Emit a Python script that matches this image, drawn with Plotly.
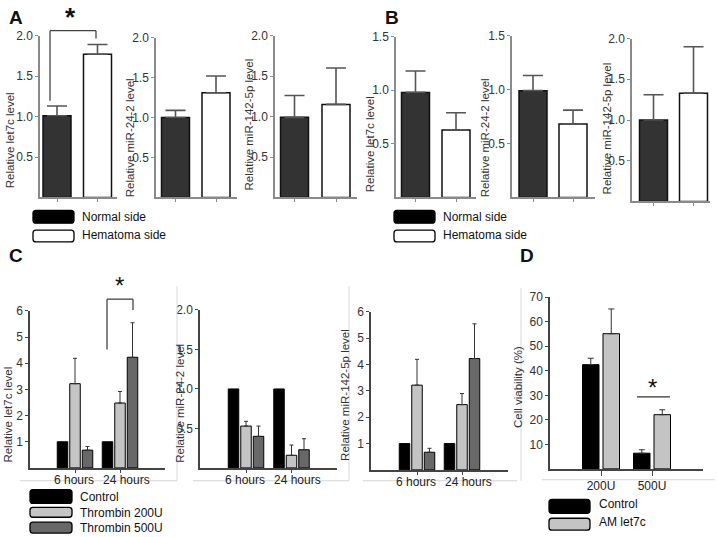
import plotly.graph_objects as go

W, H = 718, 537

# ---------------- data ----------------
AB_groups = ["Normal side", "Hematoma side"]
A_titles = ["Relative let7c level", "Relative miR-24-2 level", "Relative miR-142-5p level"]
A_normal = [1.01, 1.00, 0.99]
A_normal_err = [0.12, 0.09, 0.27]
A_hema = [1.77, 1.31, 1.15]
A_hema_err = [0.12, 0.21, 0.45]

B_titles = ["Relative let7c level", "Relative miR-24-2 level", "Relative miR-142-5p level"]
B_normal = [0.98, 0.99, 1.00]
B_normal_err = [0.20, 0.14, 0.31]
B_hema = [0.63, 0.68, 1.33]
B_hema_err = [0.16, 0.13, 0.57]

C_times = ["6 hours", "24 hours"]
C_series = ["Control", "Thrombin 200U", "Thrombin 500U"]
C_titles = ["Relative let7c level", "Relative miR-24-2 level", "Relative miR-142-5p level"]
C_let7c_control = [1.0, 1.0]
C_let7c_200 = [3.22, 2.48]
C_let7c_200_err = [0.97, 0.44]
C_let7c_500 = [0.68, 4.23]
C_let7c_500_err = [0.14, 1.32]
C_mir24_control = [1.0, 1.0]
C_mir24_200 = [0.53, 0.16]
C_mir24_200_err = [0.06, 0.13]
C_mir24_500 = [0.40, 0.23]
C_mir24_500_err = [0.13, 0.14]
C_mir142_control = [1.0, 1.0]
C_mir142_200 = [3.22, 2.48]
C_mir142_200_err = [0.98, 0.42]
C_mir142_500 = [0.67, 4.23]
C_mir142_500_err = [0.15, 1.32]

D_doses = ["200U", "500U"]
D_series = ["Control", "AM let7c"]
D_title = "Cell viability (%)"
D_control = [42.5, 6.4]
D_control_err = [2.6, 1.4]
D_am = [55.1, 22.1]
D_am_err = [10.1, 2.0]

# ---------------- helpers ----------------
FONT = "Liberation Sans, Arial, sans-serif"


def px(x):
    return x / W


def py(y):
    return 1 - y / H


fig = go.Figure()
layout = dict(width=W, height=H, margin=dict(l=0, r=0, t=0, b=0),
              paper_bgcolor="white", plot_bgcolor="rgba(0,0,0,0)",
              showlegend=False, barmode="overlay",
              font=dict(family=FONT, size=12, color="#333"))
annotations = []
shapes = []


def add_axes(n, left, right, top, bot, ymax, r0, r1, ytv, ytt, show_xlabels, xlabels, axcol, axw):
    xa = "xaxis" if n == 1 else f"xaxis{n}"
    ya = "yaxis" if n == 1 else f"yaxis{n}"
    xid = "x" if n == 1 else f"x{n}"
    yid = "y" if n == 1 else f"y{n}"
    layout[xa] = dict(domain=[px(left), px(right)], range=[r0, r1], anchor=yid,
                      showline=True, linecolor=axcol, linewidth=axw, showgrid=False,
                      zeroline=False, ticks="outside", ticklen=3, tickwidth=1,
                      tickcolor=axcol, tickvals=[0, 1], tickangle=0,
                      ticktext=xlabels if xlabels else ["", ""],
                      showticklabels=show_xlabels,
                      tickfont=dict(family=FONT, size=12, color="#222"), fixedrange=True)
    layout[ya] = dict(domain=[py(bot), py(top)], range=[0, ymax], anchor=xid,
                      showline=True, linecolor=axcol, linewidth=axw, showgrid=False,
                      zeroline=False, ticks="outside", ticklen=3, tickwidth=1,
                      tickcolor=axcol, tickvals=ytv, ticktext=ytt,
                      tickfont=dict(family=FONT, size=12, color="#333"), fixedrange=True)
    return xid, yid


def ytitle(text, cx, cy):
    annotations.append(dict(text=text, x=px(cx), y=py(cy), xref="paper", yref="paper",
                            showarrow=False, textangle=-90, xanchor="center", yanchor="middle",
                            font=dict(family=FONT, size=11.5, color="#333")))


def text_at(text, x, y, size, bold=False, xanchor="left"):
    annotations.append(dict(text=f"<b>{text}</b>" if bold else text, x=px(x), y=py(y),
                            xref="paper", yref="paper", showarrow=False,
                            xanchor=xanchor, yanchor="middle",
                            font=dict(family=FONT, size=size, color="#111")))


def line(x0, y0, x1, y1, color="#333", width=1.2):
    shapes.append(dict(type="line", xref="paper", yref="paper", x0=px(x0), y0=py(y0),
                       x1=px(x1), y1=py(y1), line=dict(color=color, width=width)))


def rrect(x0, y0, x1, y1, fill, r=3):
    pts = lambda x, y: f"{px(x):.5f},{py(y):.5f}"
    path = (f"M {pts(x0 + r, y0)} L {pts(x1 - r, y0)} Q {pts(x1, y0)} {pts(x1, y0 + r)} "
            f"L {pts(x1, y1 - r)} Q {pts(x1, y1)} {pts(x1 - r, y1)} "
            f"L {pts(x0 + r, y1)} Q {pts(x0, y1)} {pts(x0, y1 - r)} "
            f"L {pts(x0, y0 + r)} Q {pts(x0, y0)} {pts(x0 + r, y0)} Z")
    shapes.append(dict(type="path", xref="paper", yref="paper", path=path,
                       fillcolor=fill, line=dict(color="#000", width=1.3)))


# ---------------- panels A & B ----------------
AB_boxes = [
    # left, right, top(ymax px), bottom(0 px), ymax, bar center0, pitch, title x, title y
    (40, 117, 29, 193, 2.0, 57, 40.5, 10, 135),
    (156, 237, 31, 193, 2.0, 175.5, 40.5, 130, 133),
    (275, 357, 29, 193, 2.0, 294.5, 41.5, 249, 119),
    (396, 476, 30, 193, 1.5, 415.5, 40.5, 370, 139),
    (512, 595, 29, 193, 1.5, 533, 40.0, 485, 133),
    (632, 710, 32, 197, 2.0, 653.5, 40.0, 607, 123),
]
AB_vals = [(A_normal[i], A_hema[i], A_normal_err[i], A_hema_err[i], A_titles[i]) for i in range(3)] + \
          [(B_normal[i], B_hema[i], B_normal_err[i], B_hema_err[i], B_titles[i]) for i in range(3)]

for k, (box, vals) in enumerate(zip(AB_boxes, AB_vals)):
    left, right, top, bot, ymax, c0, pitch, tx, ty = box
    n = k + 1
    r0 = (left - c0) / pitch
    r1 = (right - c0) / pitch
    if ymax == 2.0:
        tv, tt = [0.5, 1.0, 1.5, 2.0], ["0.5", "1.0", "1.5", "2.0"]
    else:
        tv, tt = [0.5, 1.0, 1.5], ["0.5", "1.0", "1.5"]
    xid, yid = add_axes(n, left, right, top, bot, ymax, r0, r1, tv, tt, False, None, "#8a8a8a", 1.5)
    nv, hv, ne, he, title = vals
    fig.add_trace(go.Bar(x=[0, 1], y=[nv, hv], width=28 / pitch, xaxis=xid, yaxis=yid,
                         marker=dict(color=["#333333", "#ffffff"], line=dict(color="#111", width=1.5)),
                         error_y=dict(type="data", symmetric=False, array=[ne, he], arrayminus=[0, 0],
                                      color="#555", thickness=1.6, width=10)))
    ytitle(title, tx, ty)

# significance bracket A
line(50, 95, 50, 24, "#444", 1.3)
line(50, 24, 96, 24, "#444", 1.3)
line(96, 24, 96, 32, "#444", 1.3)
text_at("*", 70, 10, 26, bold=True, xanchor="center")

# legends A & B
for lx in (33, 394):
    rrect(lx, 206, lx + 41, 219, "#000000")
    rrect(lx, 226, lx + 41, 238, "#ffffff")
    text_at(AB_groups[0], lx + 47, 213, 12)
    text_at(AB_groups[1], lx + 47, 231, 12)

# ---------------- panel C ----------------
C_boxes = [
    (30, 165, 308, 467, 6, 75, 45, 8, 413),
    (200, 337, 307, 467, 2.0, 246, 45.5, 180, 402),
    (371, 508, 309, 469, 6, 417, 45, 345, 393),
]
C_data = [
    (C_let7c_control, C_let7c_200, C_let7c_200_err, C_let7c_500, C_let7c_500_err),
    (C_mir24_control, C_mir24_200, C_mir24_200_err, C_mir24_500, C_mir24_500_err),
    (C_mir142_control, C_mir142_200, C_mir142_200_err, C_mir142_500, C_mir142_500_err),
]
C_colors = ["#000000", "#c4c4c4", "#686868"]
C_label_pos = [-0.03, 1.14]

for k, (box, dat) in enumerate(zip(C_boxes, C_data)):
    left, right, top, bot, ymax, c0, pitch, tx, ty = box
    n = 7 + k
    r0 = (left - c0) / pitch
    r1 = (right - c0) / pitch
    if ymax == 6:
        tv = [1, 2, 3, 4, 5, 6]
        tt = [str(v) for v in tv]
    else:
        tv, tt = [0.5, 1.0, 1.5, 2.0], ["0.5", "1.0", "1.5", "2.0"]
    xid, yid = add_axes(n, left, right, top, bot, ymax, r0, r1, tv, tt, False, None, "#444", 1.5)
    bw = 10.5 / pitch
    step = 12.5 / pitch
    ctrl, v200, e200, v500, e500 = dat
    series = [(ctrl, None), (v200, e200), (v500, e500)]
    for j, (vals, errs) in enumerate(series):
        err = None
        if errs is not None:
            err = dict(type="data", symmetric=False, array=errs, arrayminus=[0, 0],
                       color="#333", thickness=1, width=2)
        fig.add_trace(go.Bar(x=[0, 1], y=vals, width=bw, offset=(j - 1) * step - bw / 2,
                             xaxis=xid, yaxis=yid, name=C_series[j],
                             marker=dict(color=C_colors[j], line=dict(color="#000", width=1)),
                             error_y=err))
    # category labels
    for lbl, pos in zip(C_times, C_label_pos):
        annotations.append(dict(text=lbl, x=pos, y=py(bot + 12), xref=xid, yref="paper",
                                showarrow=False, xanchor="center", yanchor="middle",
                                font=dict(family=FONT, size=12, color="#222")))
    ytitle(C_titles[k], tx, ty)

# C significance bracket
line(107, 347, 107, 296, "#333", 1.2)
line(107, 296, 133, 296, "#333", 1.2)
line(133, 296, 133, 307, "#333", 1.2)
text_at("*", 119, 282, 24, bold=False, xanchor="center")

# faint chart-area frames
FR = "#d6d6d6"
line(177, 283, 177, 480, FR, 1)
line(20, 480, 177, 480, FR, 1)
line(349, 283, 349, 480, FR, 1)
line(193, 480, 349, 480, FR, 1)
line(521, 285, 521, 480, FR, 1)
line(363, 480, 517, 480, FR, 1)
line(542, 479, 715, 479, FR, 1)

# C legend
for j, (yy0, yy1) in enumerate([(489, 503), (507, 517), (522, 533)]):
    rrect(30, yy0, 72, yy1, C_colors[j])
    text_at(C_series[j], 78, (yy0 + yy1) / 2 + 0.5, 12)

# ---------------- panel D ----------------
left, right, top, bot = 550, 703, 294, 468
c0, pitch = 601, 51
xid, yid = add_axes(10, left, right, top, bot, 70, (left - c0) / pitch, (right - c0) / pitch,
                    [10, 20, 30, 40, 50, 60, 70], [str(v) for v in [10, 20, 30, 40, 50, 60, 70]],
                    True, D_doses, "#444", 1.5)
layout["xaxis10"]["ticklen"] = 5
D_colors = ["#000000", "#c4c4c4"]
for j, (vals, errs) in enumerate([(D_control, D_control_err), (D_am, D_am_err)]):
    bw = 16.5 / pitch
    fig.add_trace(go.Bar(x=[0, 1], y=vals, width=bw, offset=(j - 0.5) * (20.5 / pitch) - bw / 2,
                         xaxis=xid, yaxis=yid, name=D_series[j],
                         marker=dict(color=D_colors[j], line=dict(color="#000", width=1)),
                         error_y=dict(type="data", symmetric=False, array=errs, arrayminus=[0, 0],
                                      color="#333", thickness=1, width=3)))
ytitle(D_title, 518, 385)
line(637, 395, 670, 395, "#333", 1.2)
text_at("*", 652, 386, 24, bold=False, xanchor="center")

rrect(549, 499, 590, 513, "#000000")
rrect(549, 518, 590, 530, "#c4c4c4")
text_at(D_series[0], 597, 504, 12)
text_at(D_series[1], 597, 522, 12)

# panel letters
text_at("A", 16, 11, 19, bold=True, xanchor="center")
text_at("B", 392, 11, 19, bold=True, xanchor="center")
text_at("C", 16, 252, 19, bold=True, xanchor="center")
text_at("D", 527, 252, 19, bold=True, xanchor="center")

layout["annotations"] = annotations
layout["shapes"] = shapes
fig.update_layout(**layout)
fig.write_html("out.html", config={"displayModeBar": False},
               post_script="document.body.style.margin='0';document.body.style.overflow='hidden';")
